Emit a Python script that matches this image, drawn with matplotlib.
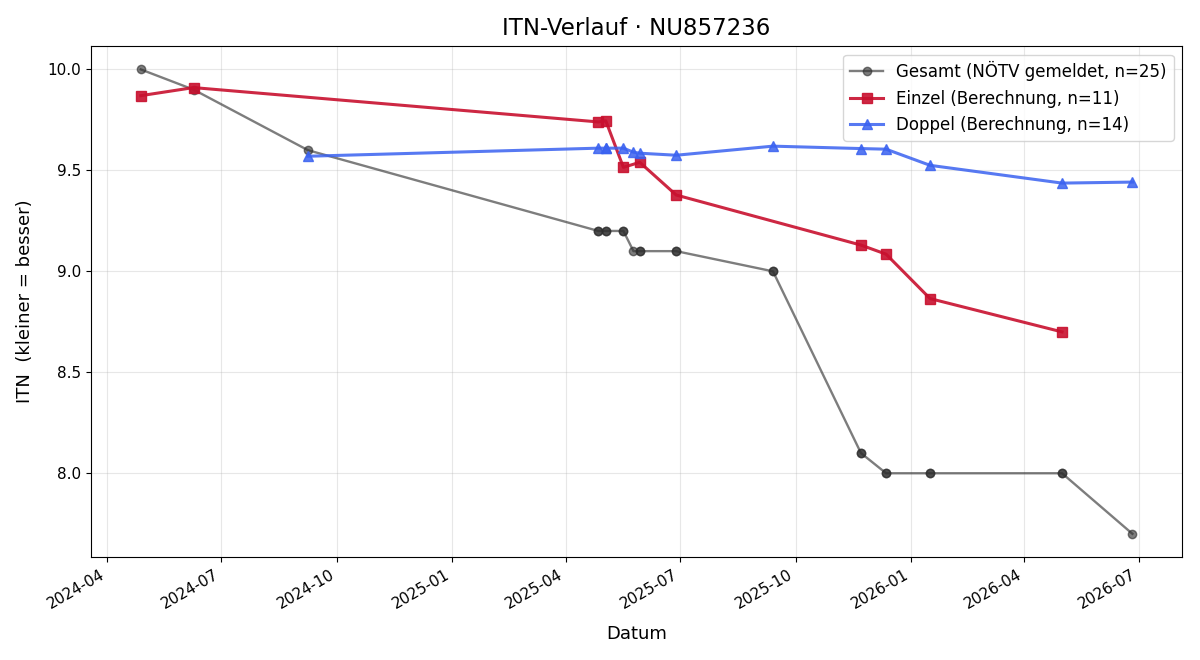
import matplotlib
matplotlib.use("Agg")
import matplotlib.pyplot as plt
import matplotlib.dates as mdates
import pandas as pd

# Gesamt (NÖTV gemeldet) – duplicates are drawn on top of each other
gesamt_dates = ["2024-04-28", "2024-06-09", "2024-09-08",
                "2025-04-27", "2025-04-27", "2025-05-03", "2025-05-03",
                "2025-05-17", "2025-05-17", "2025-05-25", "2025-05-30", "2025-05-30",
                "2025-06-28", "2025-06-28", "2025-09-13", "2025-09-13",
                "2025-11-22", "2025-11-22", "2025-12-12", "2025-12-12",
                "2026-01-16", "2026-01-16", "2026-05-01", "2026-05-01", "2026-06-26"]
gesamt_vals = [10.0, 9.9, 9.6,
               9.2, 9.2, 9.2, 9.2,
               9.2, 9.2, 9.1, 9.1, 9.1,
               9.1, 9.1, 9.0, 9.0,
               8.1, 8.1, 8.0, 8.0,
               8.0, 8.0, 8.0, 8.0, 7.7]

einzel_dates = ["2024-04-28", "2024-06-09", "2025-04-27", "2025-05-03", "2025-05-17",
                "2025-05-30", "2025-06-28", "2025-11-22", "2025-12-12", "2026-01-16",
                "2026-05-01"]
einzel_vals = [9.87, 9.91, 9.74, 9.745, 9.515, 9.54, 9.378, 9.13, 9.085, 8.865, 8.70]

doppel_dates = ["2024-09-08", "2025-04-27", "2025-05-03", "2025-05-03", "2025-05-17",
                "2025-05-25", "2025-05-30", "2025-06-28", "2025-09-13", "2025-11-22",
                "2025-12-12", "2026-01-16", "2026-05-01", "2026-06-26"]
doppel_vals = [9.57, 9.61, 9.61, 9.61, 9.61, 9.59, 9.585, 9.575, 9.62, 9.608,
               9.605, 9.525, 9.437, 9.442]

fig, ax = plt.subplots(figsize=(12, 6.6), dpi=100)
fig.subplots_adjust(left=0.076, right=0.985, top=0.930, bottom=0.156)

ax.plot(pd.to_datetime(gesamt_dates), gesamt_vals, marker="o", color="#2e2e2e",
        alpha=0.62, linewidth=1.7, markersize=6,
        label=f"Gesamt (NÖTV gemeldet, n={len(gesamt_vals)})")
ax.plot(pd.to_datetime(einzel_dates), einzel_vals, marker="s", color="#C8102E",
        alpha=0.9, linewidth=2.2, markersize=7,
        label=f"Einzel (Berechnung, n={len(einzel_vals)})")
ax.plot(pd.to_datetime(doppel_dates), doppel_vals, marker="^", color="#3a62f0",
        alpha=0.85, linewidth=2.2, markersize=7,
        label=f"Doppel (Berechnung, n={len(doppel_vals)})")

ax.set_title("ITN-Verlauf · NU857236", fontsize=16.5, pad=8)
ax.set_xlabel("Datum", fontsize=13, labelpad=10)
ax.set_ylabel("ITN  (kleiner = besser)", fontsize=13, labelpad=10)
ax.grid(True, alpha=0.3)
ax.xaxis.set_major_locator(mdates.MonthLocator(bymonth=[1, 4, 7, 10]))
ax.xaxis.set_major_formatter(mdates.DateFormatter("%Y-%m"))
ax.tick_params(labelsize=11)
ax.legend(loc="upper right", fontsize=12)
for lbl in ax.get_xticklabels():
    lbl.set_rotation(30)
    lbl.set_ha("right")

fig.savefig("out.png", dpi=100)
